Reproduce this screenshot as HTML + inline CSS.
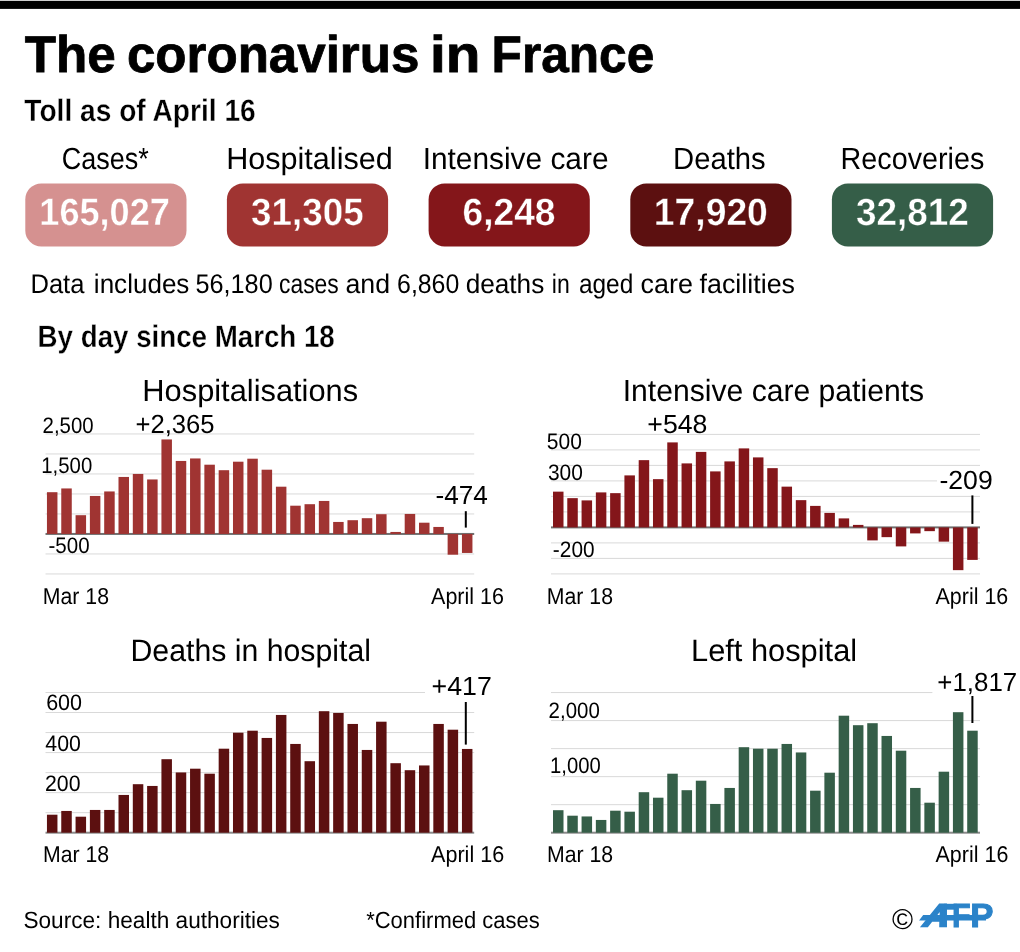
<!DOCTYPE html>
<html lang="en"><head><meta charset="utf-8"><title>The coronavirus in France</title>
<style>
html,body{margin:0;padding:0;background:#fff;}
svg{display:block;font-family:"Liberation Sans",sans-serif;}
text{white-space:pre;text-rendering:geometricPrecision;}
</style></head><body>
<svg width="1020" height="952" viewBox="0 0 1020 952">
<rect class="g" x="0" y="0" width="1020" height="952" fill="#fff"/>
<rect class="g" x="0.00" y="0.00" width="1020.00" height="1.00" fill="#cfcfcf"/>
<rect class="g" x="0.00" y="1.00" width="1020.00" height="7.90" fill="#000"/>
<rect class="g" x="25.30" y="183.40" width="161.20" height="63.00" fill="#d59190" rx="16"/>
<rect class="g" x="226.90" y="183.40" width="161.20" height="63.00" fill="#a03432" rx="16"/>
<rect class="g" x="428.60" y="183.40" width="161.20" height="63.00" fill="#84161a" rx="16"/>
<rect class="g" x="630.30" y="183.40" width="161.20" height="63.00" fill="#5c1010" rx="16"/>
<rect class="g" x="831.90" y="183.40" width="161.20" height="63.00" fill="#355e48" rx="16"/>
<rect class="g" x="45.50" y="573.45" width="428.70" height="1.00" fill="#d9d9d9"/>
<rect class="g" x="45.50" y="553.45" width="428.70" height="1.00" fill="#d9d9d9"/>
<rect class="g" x="45.50" y="513.45" width="428.70" height="1.00" fill="#d9d9d9"/>
<rect class="g" x="45.50" y="493.45" width="428.70" height="1.00" fill="#d9d9d9"/>
<rect class="g" x="45.50" y="473.45" width="428.70" height="1.00" fill="#d9d9d9"/>
<rect class="g" x="45.50" y="453.45" width="428.70" height="1.00" fill="#d9d9d9"/>
<rect class="g" x="45.50" y="433.45" width="428.70" height="1.00" fill="#d9d9d9"/>
<rect class="g" x="45.50" y="532.95" width="428.70" height="2.00" fill="#707070"/>
<rect class="g" x="46.95" y="492.20" width="10.50" height="41.75" fill="#a03432"/>
<rect class="g" x="61.26" y="488.45" width="10.50" height="45.50" fill="#a03432"/>
<rect class="g" x="75.57" y="515.20" width="10.50" height="18.75" fill="#a03432"/>
<rect class="g" x="89.88" y="495.95" width="10.50" height="38.00" fill="#a03432"/>
<rect class="g" x="104.19" y="491.45" width="10.50" height="42.50" fill="#a03432"/>
<rect class="g" x="118.50" y="476.95" width="10.50" height="57.00" fill="#a03432"/>
<rect class="g" x="132.81" y="473.95" width="10.50" height="60.00" fill="#a03432"/>
<rect class="g" x="147.12" y="479.45" width="10.50" height="54.50" fill="#a03432"/>
<rect class="g" x="161.43" y="439.45" width="10.50" height="94.50" fill="#a03432"/>
<rect class="g" x="175.74" y="460.95" width="10.50" height="73.00" fill="#a03432"/>
<rect class="g" x="190.05" y="458.45" width="10.50" height="75.50" fill="#a03432"/>
<rect class="g" x="204.36" y="464.70" width="10.50" height="69.25" fill="#a03432"/>
<rect class="g" x="218.67" y="470.20" width="10.50" height="63.75" fill="#a03432"/>
<rect class="g" x="232.98" y="461.70" width="10.50" height="72.25" fill="#a03432"/>
<rect class="g" x="247.29" y="458.70" width="10.50" height="75.25" fill="#a03432"/>
<rect class="g" x="261.60" y="469.70" width="10.50" height="64.25" fill="#a03432"/>
<rect class="g" x="275.91" y="486.70" width="10.50" height="47.25" fill="#a03432"/>
<rect class="g" x="290.22" y="505.70" width="10.50" height="28.25" fill="#a03432"/>
<rect class="g" x="304.53" y="504.20" width="10.50" height="29.75" fill="#a03432"/>
<rect class="g" x="318.84" y="500.95" width="10.50" height="33.00" fill="#a03432"/>
<rect class="g" x="333.15" y="521.95" width="10.50" height="12.00" fill="#a03432"/>
<rect class="g" x="347.46" y="520.20" width="10.50" height="13.75" fill="#a03432"/>
<rect class="g" x="361.77" y="518.20" width="10.50" height="15.75" fill="#a03432"/>
<rect class="g" x="376.08" y="514.20" width="10.50" height="19.75" fill="#a03432"/>
<rect class="g" x="390.39" y="531.95" width="10.50" height="2.00" fill="#a03432"/>
<rect class="g" x="404.70" y="513.95" width="10.50" height="20.00" fill="#a03432"/>
<rect class="g" x="419.01" y="522.70" width="10.50" height="11.25" fill="#a03432"/>
<rect class="g" x="433.32" y="526.95" width="10.50" height="7.00" fill="#a03432"/>
<rect class="g" x="447.63" y="533.95" width="10.50" height="20.75" fill="#a03432"/>
<rect class="g" x="461.94" y="533.95" width="10.50" height="19.00" fill="#a03432"/>
<rect class="g" x="551.00" y="573.40" width="429.00" height="1.00" fill="#d9d9d9"/>
<rect class="g" x="551.00" y="557.90" width="429.00" height="1.00" fill="#d9d9d9"/>
<rect class="g" x="551.00" y="542.40" width="429.00" height="1.00" fill="#d9d9d9"/>
<rect class="g" x="551.00" y="511.40" width="429.00" height="1.00" fill="#d9d9d9"/>
<rect class="g" x="551.00" y="495.90" width="429.00" height="1.00" fill="#d9d9d9"/>
<rect class="g" x="551.00" y="480.40" width="386.00" height="1.00" fill="#d9d9d9"/>
<rect class="g" x="551.00" y="464.90" width="429.00" height="1.00" fill="#d9d9d9"/>
<rect class="g" x="551.00" y="449.40" width="429.00" height="1.00" fill="#d9d9d9"/>
<rect class="g" x="551.00" y="433.90" width="429.00" height="1.00" fill="#d9d9d9"/>
<rect class="g" x="551.00" y="526.40" width="429.00" height="2.00" fill="#707070"/>
<rect class="g" x="553.00" y="491.65" width="10.50" height="35.75" fill="#84161a"/>
<rect class="g" x="567.28" y="498.15" width="10.50" height="29.25" fill="#84161a"/>
<rect class="g" x="581.57" y="500.40" width="10.50" height="27.00" fill="#84161a"/>
<rect class="g" x="595.85" y="492.40" width="10.50" height="35.00" fill="#84161a"/>
<rect class="g" x="610.13" y="493.15" width="10.50" height="34.25" fill="#84161a"/>
<rect class="g" x="624.41" y="475.40" width="10.50" height="52.00" fill="#84161a"/>
<rect class="g" x="638.70" y="460.15" width="10.50" height="67.25" fill="#84161a"/>
<rect class="g" x="652.98" y="479.15" width="10.50" height="48.25" fill="#84161a"/>
<rect class="g" x="667.26" y="442.40" width="10.50" height="85.00" fill="#84161a"/>
<rect class="g" x="681.55" y="463.40" width="10.50" height="64.00" fill="#84161a"/>
<rect class="g" x="695.83" y="451.90" width="10.50" height="75.50" fill="#84161a"/>
<rect class="g" x="710.11" y="471.40" width="10.50" height="56.00" fill="#84161a"/>
<rect class="g" x="724.40" y="461.40" width="10.50" height="66.00" fill="#84161a"/>
<rect class="g" x="738.68" y="448.40" width="10.50" height="79.00" fill="#84161a"/>
<rect class="g" x="752.96" y="457.40" width="10.50" height="70.00" fill="#84161a"/>
<rect class="g" x="767.25" y="468.15" width="10.50" height="59.25" fill="#84161a"/>
<rect class="g" x="781.53" y="486.65" width="10.50" height="40.75" fill="#84161a"/>
<rect class="g" x="795.81" y="500.15" width="10.50" height="27.25" fill="#84161a"/>
<rect class="g" x="810.09" y="505.90" width="10.50" height="21.50" fill="#84161a"/>
<rect class="g" x="824.38" y="512.90" width="10.50" height="14.50" fill="#84161a"/>
<rect class="g" x="838.66" y="518.40" width="10.50" height="9.00" fill="#84161a"/>
<rect class="g" x="852.94" y="524.90" width="10.50" height="2.50" fill="#84161a"/>
<rect class="g" x="867.23" y="527.40" width="10.50" height="13.00" fill="#84161a"/>
<rect class="g" x="881.51" y="527.40" width="10.50" height="9.75" fill="#84161a"/>
<rect class="g" x="895.79" y="527.40" width="10.50" height="19.00" fill="#84161a"/>
<rect class="g" x="910.08" y="527.40" width="10.50" height="6.00" fill="#84161a"/>
<rect class="g" x="924.36" y="527.40" width="10.50" height="3.75" fill="#84161a"/>
<rect class="g" x="938.64" y="527.40" width="10.50" height="14.25" fill="#84161a"/>
<rect class="g" x="952.92" y="527.40" width="10.50" height="42.75" fill="#84161a"/>
<rect class="g" x="967.21" y="527.40" width="10.50" height="32.50" fill="#84161a"/>
<rect class="g" x="45.50" y="812.17" width="428.70" height="1.00" fill="#d9d9d9"/>
<rect class="g" x="45.50" y="792.14" width="428.70" height="1.00" fill="#d9d9d9"/>
<rect class="g" x="45.50" y="772.11" width="428.70" height="1.00" fill="#d9d9d9"/>
<rect class="g" x="45.50" y="752.08" width="428.70" height="1.00" fill="#d9d9d9"/>
<rect class="g" x="45.50" y="732.05" width="428.70" height="1.00" fill="#d9d9d9"/>
<rect class="g" x="45.50" y="712.02" width="428.70" height="1.00" fill="#d9d9d9"/>
<rect class="g" x="45.50" y="691.99" width="379.50" height="1.00" fill="#d9d9d9"/>
<rect class="g" x="45.50" y="831.70" width="428.70" height="2.00" fill="#8a8a8a"/>
<rect class="g" x="46.95" y="814.70" width="10.50" height="18.00" fill="#5c1010"/>
<rect class="g" x="61.26" y="810.95" width="10.50" height="21.75" fill="#5c1010"/>
<rect class="g" x="75.57" y="816.70" width="10.50" height="16.00" fill="#5c1010"/>
<rect class="g" x="89.88" y="809.95" width="10.50" height="22.75" fill="#5c1010"/>
<rect class="g" x="104.19" y="809.95" width="10.50" height="22.75" fill="#5c1010"/>
<rect class="g" x="118.50" y="794.95" width="10.50" height="37.75" fill="#5c1010"/>
<rect class="g" x="132.81" y="784.20" width="10.50" height="48.50" fill="#5c1010"/>
<rect class="g" x="147.12" y="785.95" width="10.50" height="46.75" fill="#5c1010"/>
<rect class="g" x="161.43" y="759.20" width="10.50" height="73.50" fill="#5c1010"/>
<rect class="g" x="175.74" y="772.45" width="10.50" height="60.25" fill="#5c1010"/>
<rect class="g" x="190.05" y="768.70" width="10.50" height="64.00" fill="#5c1010"/>
<rect class="g" x="204.36" y="773.70" width="10.50" height="59.00" fill="#5c1010"/>
<rect class="g" x="218.67" y="748.70" width="10.50" height="84.00" fill="#5c1010"/>
<rect class="g" x="232.98" y="732.70" width="10.50" height="100.00" fill="#5c1010"/>
<rect class="g" x="247.29" y="730.70" width="10.50" height="102.00" fill="#5c1010"/>
<rect class="g" x="261.60" y="737.95" width="10.50" height="94.75" fill="#5c1010"/>
<rect class="g" x="275.91" y="714.95" width="10.50" height="117.75" fill="#5c1010"/>
<rect class="g" x="290.22" y="743.95" width="10.50" height="88.75" fill="#5c1010"/>
<rect class="g" x="304.53" y="761.20" width="10.50" height="71.50" fill="#5c1010"/>
<rect class="g" x="318.84" y="711.20" width="10.50" height="121.50" fill="#5c1010"/>
<rect class="g" x="333.15" y="712.95" width="10.50" height="119.75" fill="#5c1010"/>
<rect class="g" x="347.46" y="723.95" width="10.50" height="108.75" fill="#5c1010"/>
<rect class="g" x="361.77" y="749.95" width="10.50" height="82.75" fill="#5c1010"/>
<rect class="g" x="376.08" y="721.70" width="10.50" height="111.00" fill="#5c1010"/>
<rect class="g" x="390.39" y="763.20" width="10.50" height="69.50" fill="#5c1010"/>
<rect class="g" x="404.70" y="770.20" width="10.50" height="62.50" fill="#5c1010"/>
<rect class="g" x="419.01" y="765.45" width="10.50" height="67.25" fill="#5c1010"/>
<rect class="g" x="433.32" y="723.95" width="10.50" height="108.75" fill="#5c1010"/>
<rect class="g" x="447.63" y="729.70" width="10.50" height="103.00" fill="#5c1010"/>
<rect class="g" x="461.94" y="748.95" width="10.50" height="83.75" fill="#5c1010"/>
<rect class="g" x="551.00" y="804.17" width="429.00" height="1.00" fill="#d9d9d9"/>
<rect class="g" x="551.00" y="776.14" width="429.00" height="1.00" fill="#d9d9d9"/>
<rect class="g" x="551.00" y="748.11" width="429.00" height="1.00" fill="#d9d9d9"/>
<rect class="g" x="551.00" y="720.08" width="429.00" height="1.00" fill="#d9d9d9"/>
<rect class="g" x="551.00" y="692.05" width="381.40" height="1.00" fill="#d9d9d9"/>
<rect class="g" x="551.00" y="831.70" width="429.00" height="2.00" fill="#8a8a8a"/>
<rect class="g" x="553.00" y="810.20" width="10.50" height="22.50" fill="#355e48"/>
<rect class="g" x="567.28" y="815.70" width="10.50" height="17.00" fill="#355e48"/>
<rect class="g" x="581.57" y="816.45" width="10.50" height="16.25" fill="#355e48"/>
<rect class="g" x="595.85" y="819.95" width="10.50" height="12.75" fill="#355e48"/>
<rect class="g" x="610.13" y="810.70" width="10.50" height="22.00" fill="#355e48"/>
<rect class="g" x="624.41" y="811.70" width="10.50" height="21.00" fill="#355e48"/>
<rect class="g" x="638.70" y="792.20" width="10.50" height="40.50" fill="#355e48"/>
<rect class="g" x="652.98" y="797.70" width="10.50" height="35.00" fill="#355e48"/>
<rect class="g" x="667.26" y="773.70" width="10.50" height="59.00" fill="#355e48"/>
<rect class="g" x="681.55" y="790.20" width="10.50" height="42.50" fill="#355e48"/>
<rect class="g" x="695.83" y="780.70" width="10.50" height="52.00" fill="#355e48"/>
<rect class="g" x="710.11" y="803.95" width="10.50" height="28.75" fill="#355e48"/>
<rect class="g" x="724.40" y="787.95" width="10.50" height="44.75" fill="#355e48"/>
<rect class="g" x="738.68" y="747.20" width="10.50" height="85.50" fill="#355e48"/>
<rect class="g" x="752.96" y="748.70" width="10.50" height="84.00" fill="#355e48"/>
<rect class="g" x="767.25" y="748.70" width="10.50" height="84.00" fill="#355e48"/>
<rect class="g" x="781.53" y="743.95" width="10.50" height="88.75" fill="#355e48"/>
<rect class="g" x="795.81" y="752.45" width="10.50" height="80.25" fill="#355e48"/>
<rect class="g" x="810.09" y="790.70" width="10.50" height="42.00" fill="#355e48"/>
<rect class="g" x="824.38" y="772.70" width="10.50" height="60.00" fill="#355e48"/>
<rect class="g" x="838.66" y="715.70" width="10.50" height="117.00" fill="#355e48"/>
<rect class="g" x="852.94" y="725.20" width="10.50" height="107.50" fill="#355e48"/>
<rect class="g" x="867.23" y="723.20" width="10.50" height="109.50" fill="#355e48"/>
<rect class="g" x="881.51" y="735.95" width="10.50" height="96.75" fill="#355e48"/>
<rect class="g" x="895.79" y="750.70" width="10.50" height="82.00" fill="#355e48"/>
<rect class="g" x="910.08" y="787.95" width="10.50" height="44.75" fill="#355e48"/>
<rect class="g" x="924.36" y="802.70" width="10.50" height="30.00" fill="#355e48"/>
<rect class="g" x="938.64" y="771.70" width="10.50" height="61.00" fill="#355e48"/>
<rect class="g" x="952.92" y="712.20" width="10.50" height="120.50" fill="#355e48"/>
<rect class="g" x="967.21" y="730.70" width="10.50" height="102.00" fill="#355e48"/>
<rect class="g" x="464.80" y="511.20" width="2.0" height="16.40" fill="#000"/>
<rect class="g" x="971.40" y="495.40" width="2.0" height="28.50" fill="#000"/>
<rect class="g" x="464.80" y="702.00" width="2.0" height="42.60" fill="#000"/>
<rect class="g" x="971.40" y="696.00" width="2.0" height="27.00" fill="#000"/>
<text id="title0" x="24.71" y="72.00" font-size="51.50" font-weight="bold" fill="#000" textLength="91.04" lengthAdjust="spacingAndGlyphs" stroke="#000" stroke-width="0.8">The</text>
<text id="title1" x="126.96" y="72.00" font-size="51.50" font-weight="bold" fill="#000" textLength="292.42" lengthAdjust="spacingAndGlyphs" stroke="#000" stroke-width="0.8">coronavirus</text>
<text id="title2" x="429.96" y="72.00" font-size="51.50" font-weight="bold" fill="#000" textLength="50.40" lengthAdjust="spacingAndGlyphs" stroke="#000" stroke-width="0.8">in</text>
<text id="title3" x="491.62" y="72.00" font-size="51.50" font-weight="bold" fill="#000" textLength="162.69" lengthAdjust="spacingAndGlyphs" stroke="#000" stroke-width="0.8">France</text>
<text id="toll" x="24.32" y="121.00" font-size="30.91" font-weight="bold" fill="#000" textLength="231.38" lengthAdjust="spacingAndGlyphs" stroke="#fff" stroke-width="0.3">Toll as of April 16</text>
<text id="l1" x="61.82" y="169.00" font-size="30.58" font-weight="normal" fill="#000" textLength="87.04" lengthAdjust="spacingAndGlyphs">Cases*</text>
<text id="l2" x="226.19" y="169.00" font-size="30.58" font-weight="normal" fill="#000" textLength="166.58" lengthAdjust="spacingAndGlyphs">Hospitalised</text>
<text id="l3" x="422.67" y="169.00" font-size="30.58" font-weight="normal" fill="#000" textLength="185.85" lengthAdjust="spacingAndGlyphs">Intensive care</text>
<text id="l4" x="673.07" y="169.00" font-size="30.58" font-weight="normal" fill="#000" textLength="92.61" lengthAdjust="spacingAndGlyphs">Deaths</text>
<text id="l5" x="840.55" y="169.00" font-size="30.58" font-weight="normal" fill="#000" textLength="143.73" lengthAdjust="spacingAndGlyphs">Recoveries</text>
<text id="n1" x="39.33" y="225.00" font-size="38.03" font-weight="bold" fill="#fff" textLength="130.53" lengthAdjust="spacingAndGlyphs" stroke="#d59190" stroke-width="0.4">165,027</text>
<text id="n2" x="251.09" y="225.00" font-size="38.03" font-weight="bold" fill="#fff" textLength="112.53" lengthAdjust="spacingAndGlyphs" stroke="#a03432" stroke-width="0.4">31,305</text>
<text id="n3" x="462.48" y="225.00" font-size="38.03" font-weight="bold" fill="#fff" textLength="93.02" lengthAdjust="spacingAndGlyphs" stroke="#84161a" stroke-width="0.4">6,248</text>
<text id="n4" x="653.83" y="225.00" font-size="38.03" font-weight="bold" fill="#fff" textLength="114.03" lengthAdjust="spacingAndGlyphs" stroke="#5c1010" stroke-width="0.4">17,920</text>
<text id="n5" x="856.06" y="225.00" font-size="38.03" font-weight="bold" fill="#fff" textLength="112.82" lengthAdjust="spacingAndGlyphs" stroke="#355e48" stroke-width="0.4">32,812</text>
<text id="data0" x="30.46" y="293.00" font-size="27.02" font-weight="normal" fill="#000" textLength="53.96" lengthAdjust="spacingAndGlyphs">Data</text>
<text id="data1" x="93.87" y="293.00" font-size="27.02" font-weight="normal" fill="#000" textLength="95.52" lengthAdjust="spacingAndGlyphs">includes</text>
<text id="data2" x="195.48" y="293.00" font-size="27.02" font-weight="normal" fill="#000" textLength="77.22" lengthAdjust="spacingAndGlyphs">56,180</text>
<text id="data3" x="279.00" y="293.00" font-size="27.02" font-weight="normal" fill="#000" textLength="59.69" lengthAdjust="spacingAndGlyphs">cases</text>
<text id="data4" x="345.40" y="293.00" font-size="27.02" font-weight="normal" fill="#000" textLength="44.64" lengthAdjust="spacingAndGlyphs">and</text>
<text id="data5" x="397.05" y="293.00" font-size="27.02" font-weight="normal" fill="#000" textLength="62.24" lengthAdjust="spacingAndGlyphs">6,860</text>
<text id="data6" x="465.64" y="293.00" font-size="27.02" font-weight="normal" fill="#000" textLength="78.63" lengthAdjust="spacingAndGlyphs">deaths</text>
<text id="data7" x="551.77" y="293.00" font-size="27.02" font-weight="normal" fill="#000" textLength="17.96" lengthAdjust="spacingAndGlyphs">in</text>
<text id="data8" x="578.95" y="293.00" font-size="27.02" font-weight="normal" fill="#000" textLength="54.36" lengthAdjust="spacingAndGlyphs">aged</text>
<text id="data9" x="640.61" y="293.00" font-size="27.02" font-weight="normal" fill="#000" textLength="52.29" lengthAdjust="spacingAndGlyphs">care</text>
<text id="data10" x="699.58" y="293.00" font-size="27.02" font-weight="normal" fill="#000" textLength="95.44" lengthAdjust="spacingAndGlyphs">facilities</text>
<text id="byday" x="37.62" y="347.00" font-size="30.91" font-weight="bold" fill="#000" textLength="297.18" lengthAdjust="spacingAndGlyphs" stroke="#fff" stroke-width="0.3">By day since March 18</text>
<text id="c1t" x="142.34" y="401.00" font-size="30.58" font-weight="normal" fill="#000" textLength="215.81" lengthAdjust="spacingAndGlyphs">Hospitalisations</text>
<text id="c2t" x="622.76" y="401.00" font-size="30.58" font-weight="normal" fill="#000" textLength="301.34" lengthAdjust="spacingAndGlyphs">Intensive care patients</text>
<text id="c3t" x="130.51" y="661.00" font-size="30.93" font-weight="normal" fill="#000" textLength="240.49" lengthAdjust="spacingAndGlyphs">Deaths in hospital</text>
<text id="c4t" x="691.05" y="661.00" font-size="30.93" font-weight="normal" fill="#000" textLength="166.07" lengthAdjust="spacingAndGlyphs">Left hospital</text>
<text id="c1a" x="42.60" y="433.00" font-size="22.37" font-weight="normal" fill="#000" textLength="51.01" lengthAdjust="spacingAndGlyphs">2,500</text>
<text id="c1b" x="41.25" y="473.00" font-size="22.37" font-weight="normal" fill="#000" textLength="50.95" lengthAdjust="spacingAndGlyphs">1,500</text>
<text id="c1c" x="48.47" y="553.00" font-size="22.37" font-weight="normal" fill="#000" textLength="41.11" lengthAdjust="spacingAndGlyphs">-500</text>
<text id="c1m" x="42.78" y="604.00" font-size="23.07" font-weight="normal" fill="#000" textLength="66.20" lengthAdjust="spacingAndGlyphs">Mar 18</text>
<text id="c1e" x="431.07" y="604.00" font-size="23.07" font-weight="normal" fill="#000" textLength="72.92" lengthAdjust="spacingAndGlyphs">April 16</text>
<text id="c1p" x="135.47" y="433.00" font-size="26.26" font-weight="normal" fill="#000" textLength="79.14" lengthAdjust="spacingAndGlyphs">+2,365</text>
<text id="c1q" x="435.53" y="504.00" font-size="26.26" font-weight="normal" fill="#000" textLength="52.36" lengthAdjust="spacingAndGlyphs">-474</text>
<text id="c2a" x="546.82" y="449.00" font-size="22.37" font-weight="normal" fill="#000" textLength="35.02" lengthAdjust="spacingAndGlyphs">500</text>
<text id="c2b" x="547.97" y="480.00" font-size="22.37" font-weight="normal" fill="#000" textLength="34.89" lengthAdjust="spacingAndGlyphs">300</text>
<text id="c2c" x="552.86" y="557.00" font-size="22.37" font-weight="normal" fill="#000" textLength="41.70" lengthAdjust="spacingAndGlyphs">-200</text>
<text id="c2m" x="546.78" y="604.00" font-size="23.07" font-weight="normal" fill="#000" textLength="66.20" lengthAdjust="spacingAndGlyphs">Mar 18</text>
<text id="c2e" x="935.57" y="604.00" font-size="23.07" font-weight="normal" fill="#000" textLength="72.69" lengthAdjust="spacingAndGlyphs">April 16</text>
<text id="c2p" x="647.37" y="433.00" font-size="26.26" font-weight="normal" fill="#000" textLength="60.07" lengthAdjust="spacingAndGlyphs">+548</text>
<text id="c2q" x="939.46" y="489.00" font-size="26.26" font-weight="normal" fill="#000" textLength="53.26" lengthAdjust="spacingAndGlyphs">-209</text>
<text id="c3a" x="46.15" y="710.00" font-size="22.37" font-weight="normal" fill="#000" textLength="35.90" lengthAdjust="spacingAndGlyphs">600</text>
<text id="c3b" x="45.30" y="751.00" font-size="22.37" font-weight="normal" fill="#000" textLength="35.51" lengthAdjust="spacingAndGlyphs">400</text>
<text id="c3c" x="45.00" y="791.00" font-size="22.37" font-weight="normal" fill="#000" textLength="35.49" lengthAdjust="spacingAndGlyphs">200</text>
<text id="c3m" x="42.97" y="862.00" font-size="22.86" font-weight="normal" fill="#000" textLength="66.17" lengthAdjust="spacingAndGlyphs">Mar 18</text>
<text id="c3e" x="431.06" y="862.00" font-size="22.86" font-weight="normal" fill="#000" textLength="73.10" lengthAdjust="spacingAndGlyphs">April 16</text>
<text id="c3p" x="431.61" y="695.00" font-size="26.26" font-weight="normal" fill="#000" textLength="60.30" lengthAdjust="spacingAndGlyphs">+417</text>
<text id="c4a" x="548.58" y="718.00" font-size="22.37" font-weight="normal" fill="#000" textLength="51.17" lengthAdjust="spacingAndGlyphs">2,000</text>
<text id="c4b" x="550.02" y="773.00" font-size="22.37" font-weight="normal" fill="#000" textLength="50.64" lengthAdjust="spacingAndGlyphs">1,000</text>
<text id="c4m" x="546.97" y="862.00" font-size="22.86" font-weight="normal" fill="#000" textLength="66.17" lengthAdjust="spacingAndGlyphs">Mar 18</text>
<text id="c4e" x="935.55" y="862.00" font-size="22.86" font-weight="normal" fill="#000" textLength="72.78" lengthAdjust="spacingAndGlyphs">April 16</text>
<text id="c4p" x="937.37" y="691.00" font-size="26.26" font-weight="normal" fill="#000" textLength="79.87" lengthAdjust="spacingAndGlyphs">+1,817</text>
<text id="src" x="23.45" y="928.00" font-size="23.41" font-weight="normal" fill="#000" textLength="256.49" lengthAdjust="spacingAndGlyphs">Source: health authorities</text>
<text id="conf" x="366.15" y="928.00" font-size="23.41" font-weight="normal" fill="#000" textLength="173.62" lengthAdjust="spacingAndGlyphs">*Confirmed cases</text>
<text id="copyc" x="902.65" y="928.6" font-size="28.6" text-anchor="middle" fill="#000">©</text>
<g id="afp"><polygon class="g" points="923.2,915 986,915 986,920.6 919.1,920.6" fill="#2b83c9"/><rect class="g" x="944" y="903.8" width="13" height="5.9" fill="#2b83c9"/><text id="afpa" x="921.4" y="926.3" font-size="31" font-weight="bold" fill="#2b83c9" stroke="#2b83c9" stroke-width="2.4" stroke-linejoin="miter" textLength="25" lengthAdjust="spacingAndGlyphs" transform="translate(921.4 926.3) skewX(-22) translate(-921.4 -926.3)">A</text><text id="afpf" x="952" y="927" font-size="33.4" font-weight="bold" fill="#2b83c9" stroke="#2b83c9" stroke-width="1" textLength="18.6" lengthAdjust="spacingAndGlyphs">F</text><text id="afpp" x="970.3" y="927" font-size="33.4" font-weight="bold" fill="#2b83c9" stroke="#2b83c9" stroke-width="1" textLength="23.2" lengthAdjust="spacingAndGlyphs">P</text></g>
</svg>
</body></html>
